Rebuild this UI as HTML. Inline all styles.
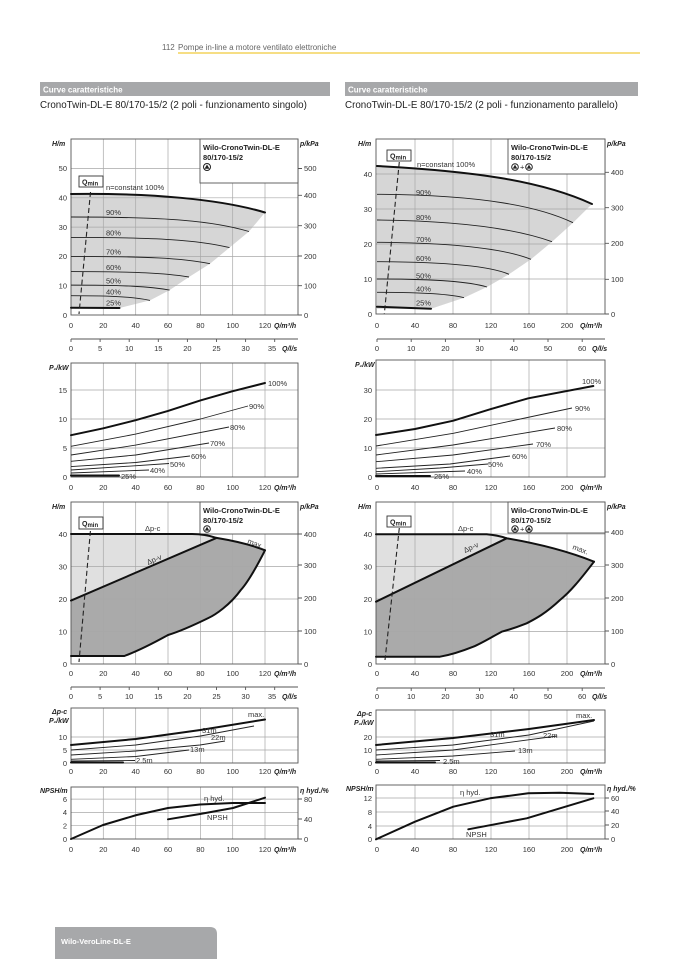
<!DOCTYPE html>
<html><head><meta charset="utf-8"><style>
html,body{margin:0;padding:0;background:#fff}
svg{display:block}
text{font-family:"Liberation Sans",sans-serif;fill:#333}
.t{font-size:7.5px}
.tm{font-size:7.5px;text-anchor:middle}
.tr{font-size:7.5px;text-anchor:end}
.ax{font-size:7px;font-weight:bold;font-style:italic;fill:#222}
.g{stroke:#a8a8a8;stroke-width:0.7;fill:none}
.f{stroke:#555;stroke-width:0.9;fill:none}
.c{stroke:#222;stroke-width:0.9;fill:none;stroke-linejoin:round}
.k{stroke:#111;stroke-width:2;fill:none;stroke-linejoin:round;stroke-linecap:round}
.d{stroke:#222;stroke-width:1.1;fill:none;stroke-dasharray:5,3}
.lb{font-size:7.5px;font-weight:bold;fill:#222}
</style></head><body>
<svg width="678" height="959" viewBox="0 0 678 959" xmlns="http://www.w3.org/2000/svg">
<!-- header -->
<text x="162" y="50" style="font-size:8px;fill:#666">112</text>
<text x="178" y="50" style="font-size:8px;fill:#666">Pompe in-line a motore ventilato elettroniche</text>
<line x1="178" y1="53" x2="640" y2="53" stroke="#f0c93a" stroke-width="1.2"/>
<rect x="40" y="82" width="290" height="14" fill="#a7a8aa"/>
<text x="43" y="92.5" style="font-size:8px;font-weight:bold;fill:#fff">Curve caratteristiche</text>
<rect x="345" y="82" width="293" height="14" fill="#a7a8aa"/>
<text x="348" y="92.5" style="font-size:8px;font-weight:bold;fill:#fff">Curve caratteristiche</text>
<text x="40" y="108" style="font-size:9.8px;fill:#222">CronoTwin-DL-E 80/170-15/2 (2 poli - funzionamento singolo)</text>
<text x="345" y="108" style="font-size:9.8px;fill:#222">CronoTwin-DL-E 80/170-15/2 (2 poli - funzionamento parallelo)</text>

<!-- ===== LEFT CHART 1 ===== -->
<path d="M71,194 C150,193 220,199 265,212.5 L249,231.5 L229.5,247.6 L210,263.7 L189,277 L169.6,290.1 L150,300.4 L119.5,308 L71,308 Z" fill="#d6d6d6"/>
<g class="g">
<path d="M103.3,139V315M135.7,139V315M168,139V315M200.4,139V315M232.7,139V315M265,139V315"/>
<path d="M71,285.7H298M71,256.4H298M71,227.1H298M71,197.8H298M71,168.5H298"/>
</g>
<rect x="71" y="139" width="227" height="176" class="f"/>
<path class="f" d="M298,168.5h4M298,195.3h4M298,225.7h4M298,256h4M298,285.7h4M298,315h4"/>
<rect x="200" y="139" width="98" height="44" fill="#fff" stroke="#555" stroke-width="0.9"/>
<text x="203" y="150" class="lb">Wilo-CronoTwin-DL-E</text>
<text x="203" y="160" class="lb">80/170-15/2</text>
<circle cx="207" cy="167" r="3.5" fill="#fff" stroke="#222"/><path d="M207,164.5 L209.5,168.8 L204.5,168.8Z" fill="#222"/>
<path class="k" d="M71,194 C150,193 220,199 265,212.5"/>
<path class="c" d="M71,217 C169,217 213,221 249,231.5"/>
<path class="c" d="M71,237.4 C158,237.4 198,240 229.5,247.6"/>
<path class="c" d="M71,256.4 C147,256.4 182,258 210,263.7"/>
<path class="c" d="M71,271.6 C136,271.6 165,273 189,277"/>
<path class="c" d="M71,285.1 C125,285.1 150,286.5 169.6,290.1"/>
<path class="c" d="M71,295.7 C114,295.7 134,297 150,300.4"/>
<path class="k" d="M71,307.7 L119.5,308"/>
<path class="d" d="M90.5,192 L79,314"/>
<rect x="79" y="176" width="24" height="11" fill="#fff" stroke="#333" stroke-width="0.9"/>
<text x="82" y="184.5" style="font-size:7px;font-weight:bold;fill:#222">Q<tspan style="font-size:6px" dy="1">min</tspan></text>
<text x="106" y="190" class="t">n=constant 100%</text>
<text x="106" y="215" class="t">90%</text>
<text x="106" y="235.5" class="t">80%</text>
<text x="106" y="254.5" class="t">70%</text>
<text x="106" y="270" class="t">60%</text>
<text x="106" y="283.5" class="t">50%</text>
<text x="106" y="294.5" class="t">40%</text>
<text x="106" y="305.5" class="t">25%</text>
<text x="67" y="318" class="tr">0</text><text x="67" y="288.5" class="tr">10</text><text x="67" y="259" class="tr">20</text><text x="67" y="230" class="tr">30</text><text x="67" y="200.5" class="tr">40</text><text x="67" y="171" class="tr">50</text>
<text x="304" y="318" class="t">0</text><text x="304" y="288.5" class="t">100</text><text x="304" y="259" class="t">200</text><text x="304" y="228.5" class="t">300</text><text x="304" y="198" class="t">400</text><text x="304" y="171" class="t">500</text>
<text x="52" y="146" class="ax">H/m</text><text x="300" y="146" class="ax">p/kPa</text>
<text x="71" y="328" class="tm">0</text><text x="103.3" y="328" class="tm">20</text><text x="135.7" y="328" class="tm">40</text><text x="168" y="328" class="tm">60</text><text x="200.4" y="328" class="tm">80</text><text x="232.7" y="328" class="tm">100</text><text x="265" y="328" class="tm">120</text>
<text x="274" y="328" class="ax">Q/m³/h</text>
<path class="f" d="M71,339H298M71,339v3M100.1,339v3M129.2,339v3M158.3,339v3M187.4,339v3M216.5,339v3M245.6,339v3M274.7,339v3"/>
<text x="71" y="351" class="tm">0</text><text x="100.1" y="351" class="tm">5</text><text x="129.2" y="351" class="tm">10</text><text x="158.3" y="351" class="tm">15</text><text x="187.4" y="351" class="tm">20</text><text x="216.5" y="351" class="tm">25</text><text x="245.6" y="351" class="tm">30</text><text x="272" y="351" class="tm">35</text>
<text x="282" y="351" class="ax">Q/l/s</text>

<!-- ===== LEFT CHART 2 (P1) ===== -->
<g class="g">
<path d="M103.3,363V477M135.7,363V477M168,363V477M200.4,363V477M232.7,363V477M265,363V477"/>
<path d="M71,448H298M71,419H298M71,390H298"/>
</g>
<rect x="71" y="363" width="227" height="114" class="f"/>
<polyline class="k" points="71,435.2 103.3,428.3 135.7,420.2 168,410.9 200.4,400.4 232.7,391.2 265,383"/>
<polyline class="c" points="71,446.3 135.7,434.1 200.4,419 248,406"/>
<polyline class="c" points="71,455 135.7,445.1 229,427"/>
<polyline class="c" points="71,461.3 135.7,455 209,443"/>
<polyline class="c" points="71,466.6 135.7,462.5 190,456"/>
<polyline class="c" points="71,470 169,463.5"/>
<polyline class="c" points="71,473 149,470"/>
<path class="k" d="M71,475.5 L119,475.5"/>
<text x="268" y="386" class="t">100%</text>
<text x="249" y="409" class="t">90%</text>
<text x="230" y="430" class="t">80%</text>
<text x="210" y="446" class="t">70%</text>
<text x="191" y="459" class="t">60%</text>
<text x="170" y="467" class="t">50%</text>
<text x="150" y="473" class="t">40%</text>
<text x="121" y="479" class="t">25%</text>
<text x="67" y="480" class="tr">0</text><text x="67" y="451" class="tr">5</text><text x="67" y="422" class="tr">10</text><text x="67" y="393" class="tr">15</text>
<text x="49" y="370" class="ax">P₁/kW</text>
<text x="71" y="490" class="tm">0</text><text x="103.3" y="490" class="tm">20</text><text x="135.7" y="490" class="tm">40</text><text x="168" y="490" class="tm">60</text><text x="200.4" y="490" class="tm">80</text><text x="232.7" y="490" class="tm">100</text><text x="265" y="490" class="tm">120</text>
<text x="274" y="490" class="ax">Q/m³/h</text>

<!-- ===== LEFT CHART 3 ===== -->
<path d="M71,534 L192,534 C200,534 208,535 216.5,537.9 L71,600.6 Z" fill="#e0e0e0"/>
<path d="M71,600.6 L216.5,537.9 C235,541 252,545 265,550.3 C255,575 245,585 240.8,590 C230,605 215,615 208.4,618 C190,627 178,632 168,635 C150,645 135,652 124.4,656 L71,656 Z" fill="#aaaaaa"/>
<g class="g">
<path d="M103.3,502V664M135.7,502V664M168,502V664M200.4,502V664M232.7,502V664M265,502V664"/>
<path d="M71,631.5H298M71,599H298M71,566.5H298M71,534H298"/>
</g>
<rect x="71" y="502" width="227" height="162" class="f"/>
<path class="f" d="M298,534h4M298,565h4M298,598h4M298,631h4M298,664h4"/>
<rect x="200" y="502" width="98" height="32" fill="#fff" stroke="#555" stroke-width="0.9"/>
<text x="203" y="513" class="lb">Wilo-CronoTwin-DL-E</text>
<text x="203" y="523" class="lb">80/170-15/2</text>
<circle cx="207" cy="529" r="3.3" fill="#fff" stroke="#222"/><path d="M207,526.6 L209.3,530.6 L204.7,530.6Z" fill="#222"/>
<path class="k" d="M71,534 L192,534 C200,534 208,535 216.5,537.9 C235,541 252,545 265,550.3"/>
<path class="k" d="M71,600.6 L216.5,537.9"/>
<path class="k" d="M265,550.3 C255,570 248,582 240.8,590 C230,605 215,615 208.4,618 C190,627 178,632 168,635 C150,645 135,652 124.4,656 L71,656"/>
<path class="d" d="M90.4,531 L79,662"/>
<rect x="79" y="517" width="24" height="12" fill="#fff" stroke="#333" stroke-width="0.9"/>
<text x="82" y="526" style="font-size:7px;font-weight:bold;fill:#222">Q<tspan style="font-size:6px" dy="1">min</tspan></text>
<text x="145" y="531" class="t">Δp-c</text>
<text x="148" y="565" class="t" transform="rotate(-23 148 565)">Δp-v</text>
<text x="247" y="543" class="t" transform="rotate(22 247 543)">max.</text>
<text x="67" y="667" class="tr">0</text><text x="67" y="634.5" class="tr">10</text><text x="67" y="602" class="tr">20</text><text x="67" y="569.5" class="tr">30</text><text x="67" y="537" class="tr">40</text>
<text x="304" y="667" class="t">0</text><text x="304" y="634" class="t">100</text><text x="304" y="601" class="t">200</text><text x="304" y="568" class="t">300</text><text x="304" y="537" class="t">400</text>
<text x="52" y="509" class="ax">H/m</text><text x="300" y="509" class="ax">p/kPa</text>
<text x="71" y="676" class="tm">0</text><text x="103.3" y="676" class="tm">20</text><text x="135.7" y="676" class="tm">40</text><text x="168" y="676" class="tm">60</text><text x="200.4" y="676" class="tm">80</text><text x="232.7" y="676" class="tm">100</text><text x="265" y="676" class="tm">120</text>
<text x="274" y="676" class="ax">Q/m³/h</text>
<path class="f" d="M71,687H298M71,687v3M100.1,687v3M129.2,687v3M158.3,687v3M187.4,687v3M216.5,687v3M245.6,687v3M274.7,687v3"/>
<text x="71" y="699" class="tm">0</text><text x="100.1" y="699" class="tm">5</text><text x="129.2" y="699" class="tm">10</text><text x="158.3" y="699" class="tm">15</text><text x="187.4" y="699" class="tm">20</text><text x="216.5" y="699" class="tm">25</text><text x="245.6" y="699" class="tm">30</text><text x="272" y="699" class="tm">35</text>
<text x="282" y="699" class="ax">Q/l/s</text>

<!-- ===== LEFT CHART 4 ===== -->
<g class="g">
<path d="M103.3,708V763M135.7,708V763M168,708V763M200.4,708V763M232.7,708V763M265,708V763"/>
<path d="M71,750H298M71,737H298"/>
</g>
<rect x="71" y="708" width="227" height="55" class="f"/>
<polyline class="k" points="71,745 135.7,739 200.4,730 265,719.5"/>
<polyline class="c" points="71,750 135.7,745 200.4,736 254,726"/>
<polyline class="c" points="71,755 135.7,751 200,745 225,741"/>
<polyline class="c" points="71,759.3 135.7,756.5 189,750"/>
<polyline class="c" points="71,761 135,760.5"/>
<path class="k" d="M71,762.5 L123,762.5"/>
<text x="248" y="717" class="t">max.</text>
<text x="202" y="733" class="t">31m</text>
<text x="211" y="740" class="t">22m</text>
<text x="190" y="752" class="t">13m</text>
<text x="136" y="763" class="t">2.5m</text>
<text x="67" y="766" class="tr">0</text><text x="67" y="753" class="tr">5</text><text x="67" y="740" class="tr">10</text>
<text x="52" y="714" class="ax">Δp-c</text><text x="49" y="723" class="ax">P₁/kW</text>
<text x="71" y="774" class="tm">0</text><text x="103.3" y="774" class="tm">20</text><text x="135.7" y="774" class="tm">40</text><text x="168" y="774" class="tm">60</text><text x="200.4" y="774" class="tm">80</text><text x="232.7" y="774" class="tm">100</text><text x="265" y="774" class="tm">120</text>
<text x="274" y="774" class="ax">Q/m³/h</text>

<!-- ===== LEFT CHART 5 ===== -->
<g class="g">
<path d="M103.3,787V839M135.7,787V839M168,787V839M200.4,787V839M232.7,787V839M265,787V839"/>
<path d="M71,825.7H298M71,812.4H298M71,799.1H298"/>
</g>
<rect x="71" y="787" width="227" height="52" class="f"/>
<path class="f" d="M298,799h4M298,819h4M298,839h4"/>
<polyline class="k" points="71,839 103,825 136.7,815 168,808 200,804.5 233,803 265,803"/>
<polyline class="k" points="168,819.3 200,814 233,808 265,797.7"/>
<text x="204" y="801" class="t">η hyd.</text>
<text x="207" y="820" class="t">NPSH</text>
<text x="67" y="842" class="tr">0</text><text x="67" y="828.5" class="tr">2</text><text x="67" y="815" class="tr">4</text><text x="67" y="802" class="tr">6</text>
<text x="304" y="842" class="t">0</text><text x="304" y="822" class="t">40</text><text x="304" y="802" class="t">80</text>
<text x="40" y="793" class="ax">NPSH/m</text><text x="300" y="793" class="ax">η hyd./%</text>
<text x="71" y="852" class="tm">0</text><text x="103.3" y="852" class="tm">20</text><text x="135.7" y="852" class="tm">40</text><text x="168" y="852" class="tm">60</text><text x="200.4" y="852" class="tm">80</text><text x="232.7" y="852" class="tm">100</text><text x="265" y="852" class="tm">120</text>
<text x="274" y="852" class="ax">Q/m³/h</text>

<!-- ===== RIGHT CHART 1 ===== -->
<path d="M377,166 C470,171 540,180 592,204 L573,222.7 L552,241.7 L531,259.3 L509,274.3 L487,287 L464,297.7 L431,308.7 L377,308.7 Z" fill="#d6d6d6"/>
<g class="g">
<path d="M415,139V314M453,139V314M491,139V314M529,139V314M567,139V314"/>
<path d="M376,279H605M376,244H605M376,209H605M376,174H605"/>
</g>
<rect x="376" y="139" width="229" height="175" class="f"/>
<path class="f" d="M605,172.3h4M605,207.7h4M605,243.3h4M605,279.3h4M605,314h4"/>
<rect x="508" y="139" width="97" height="35" fill="#fff" stroke="#555" stroke-width="0.9"/>
<text x="511" y="150" class="lb">Wilo-CronoTwin-DL-E</text>
<text x="511" y="160" class="lb">80/170-15/2</text>
<circle cx="515" cy="167" r="3.3" fill="#fff" stroke="#222"/><path d="M515,164.6 L517.3,168.6 L512.7,168.6Z" fill="#222"/>
<text x="520" y="169.5" class="t">+</text>
<circle cx="529" cy="167" r="3.3" fill="#fff" stroke="#222"/><path d="M529,164.6 L531.3,168.6 L526.7,168.6Z" fill="#222"/>
<path class="k" d="M377,166 C470,171 540,180 592,204"/>
<path class="c" d="M377,194.3 C485,195 540,207 573,222.7"/>
<path class="c" d="M377,220 C475,221 525,232 552,241.7"/>
<path class="c" d="M377,242.3 C470,243 510,251 531,259.3"/>
<path class="c" d="M377,261.7 C455,262 492,267 509,274.3"/>
<path class="c" d="M377,279 C440,279 470,282 487,287"/>
<path class="c" d="M377,292.3 C425,292.3 450,294 464,297.7"/>
<path class="k" d="M377,306.7 L431,308.7"/>
<path class="d" d="M399.3,162 L384.3,314"/>
<rect x="387" y="150" width="24" height="11" fill="#fff" stroke="#333" stroke-width="0.9"/>
<text x="390" y="158.5" style="font-size:7px;font-weight:bold;fill:#222">Q<tspan style="font-size:6px" dy="1">min</tspan></text>
<text x="417" y="167" class="t">n=constant 100%</text>
<text x="416" y="195" class="t">90%</text>
<text x="416" y="220" class="t">80%</text>
<text x="416" y="242" class="t">70%</text>
<text x="416" y="261" class="t">60%</text>
<text x="416" y="278.5" class="t">50%</text>
<text x="416" y="291.5" class="t">40%</text>
<text x="416" y="305.5" class="t">25%</text>
<text x="372" y="317" class="tr">0</text><text x="372" y="282" class="tr">10</text><text x="372" y="247" class="tr">20</text><text x="372" y="212" class="tr">30</text><text x="372" y="177" class="tr">40</text>
<text x="611" y="317" class="t">0</text><text x="611" y="282" class="t">100</text><text x="611" y="246" class="t">200</text><text x="611" y="210.5" class="t">300</text><text x="611" y="175" class="t">400</text>
<text x="358" y="146" class="ax">H/m</text><text x="607" y="146" class="ax">p/kPa</text>
<text x="377" y="328" class="tm">0</text><text x="415" y="328" class="tm">40</text><text x="453" y="328" class="tm">80</text><text x="491" y="328" class="tm">120</text><text x="529" y="328" class="tm">160</text><text x="567" y="328" class="tm">200</text>
<text x="580" y="328" class="ax">Q/m³/h</text>
<path class="f" d="M377,339H605M377,339v3M411.2,339v3M445.4,339v3M479.6,339v3M513.8,339v3M548,339v3M582.2,339v3"/>
<text x="377" y="351" class="tm">0</text><text x="411.2" y="351" class="tm">10</text><text x="445.4" y="351" class="tm">20</text><text x="479.6" y="351" class="tm">30</text><text x="513.8" y="351" class="tm">40</text><text x="548" y="351" class="tm">50</text><text x="582.2" y="351" class="tm">60</text>
<text x="592" y="351" class="ax">Q/l/s</text>

<!-- ===== RIGHT CHART 2 ===== -->
<g class="g">
<path d="M415,360V477M453,360V477M491,360V477M529,360V477M567,360V477"/>
<path d="M376,448H605M376,419H605M376,390H605"/>
</g>
<rect x="376" y="360" width="229" height="117" class="f"/>
<polyline class="k" points="376,435 415,429 453.3,420.7 490,409.3 528.3,398.3 593.3,386"/>
<polyline class="c" points="376,446 453.3,433.3 572,408"/>
<polyline class="c" points="376,455 453,445 555,428"/>
<polyline class="c" points="376,461.7 453,455 533,444"/>
<polyline class="c" points="376,468.3 450,464 510,456"/>
<polyline class="c" points="376,471.7 440,468 488,464"/>
<polyline class="c" points="376,474 465,471"/>
<path class="k" d="M376,476 L430,476"/>
<text x="582" y="384" class="t">100%</text>
<text x="575" y="411" class="t">90%</text>
<text x="557" y="431" class="t">80%</text>
<text x="536" y="447" class="t">70%</text>
<text x="512" y="459" class="t">60%</text>
<text x="488" y="467" class="t">50%</text>
<text x="467" y="474" class="t">40%</text>
<text x="434" y="479" class="t">25%</text>
<text x="372" y="480" class="tr">0</text><text x="372" y="451" class="tr">10</text><text x="372" y="422" class="tr">20</text><text x="372" y="393" class="tr">30</text>
<text x="355" y="367" class="ax">P₁/kW</text>
<text x="377" y="490" class="tm">0</text><text x="415" y="490" class="tm">40</text><text x="453" y="490" class="tm">80</text><text x="491" y="490" class="tm">120</text><text x="529" y="490" class="tm">160</text><text x="567" y="490" class="tm">200</text>
<text x="580" y="490" class="ax">Q/m³/h</text>

<!-- ===== RIGHT CHART 3 ===== -->
<path d="M376,534.3 L486.7,534.3 C495,535 500,536 506.7,538.3 L376,601.7 Z" fill="#e0e0e0"/>
<path d="M376,601.7 L506.7,538.3 C540,544 570,552 594,561.7 C580,580 570,592 560,600 C545,614 535,619 526.7,623.3 C515,628 508,630 501.7,631.7 C490,638 482,643 473.3,646.7 C460,652 450,655 440,656.7 L376,656.7 Z" fill="#aaaaaa"/>
<g class="g">
<path d="M415,502V664M453,502V664M491,502V664M529,502V664M567,502V664"/>
<path d="M376,631.5H605M376,599H605M376,566.5H605M376,534H605"/>
</g>
<rect x="376" y="502" width="229" height="162" class="f"/>
<path class="f" d="M605,532h4M605,565h4M605,598h4M605,631h4M605,664h4"/>
<rect x="508" y="502" width="97" height="31" fill="#fff" stroke="#555" stroke-width="0.9"/>
<text x="511" y="513" class="lb">Wilo-CronoTwin-DL-E</text>
<text x="511" y="523" class="lb">80/170-15/2</text>
<circle cx="515" cy="529" r="3.2" fill="#fff" stroke="#222"/><path d="M515,526.7 L517.2,530.5 L512.8,530.5Z" fill="#222"/>
<text x="520" y="531.5" class="t">+</text>
<circle cx="529" cy="529" r="3.2" fill="#fff" stroke="#222"/><path d="M529,526.7 L531.2,530.5 L526.8,530.5Z" fill="#222"/>
<path class="k" d="M376,534.3 L486.7,534.3 C495,535 500,536 506.7,538.3 C540,544 570,552 594,561.7"/>
<path class="k" d="M376,601.7 L506.7,538.3"/>
<path class="k" d="M594,561.7 C580,580 570,592 560,600 C545,614 535,619 526.7,623.3 C515,628 508,630 501.7,631.7 C490,638 482,643 473.3,646.7 C460,652 450,655 440,656.7 L376,656.7"/>
<path class="d" d="M399.3,528 L385,660"/>
<rect x="387" y="516" width="24" height="11" fill="#fff" stroke="#333" stroke-width="0.9"/>
<text x="390" y="524.5" style="font-size:7px;font-weight:bold;fill:#222">Q<tspan style="font-size:6px" dy="1">min</tspan></text>
<text x="458" y="531" class="t">Δp-c</text>
<text x="465" y="553" class="t" transform="rotate(-25 465 553)">Δp-v</text>
<text x="572" y="549" class="t" transform="rotate(20 572 549)">max.</text>
<text x="372" y="667" class="tr">0</text><text x="372" y="634.5" class="tr">10</text><text x="372" y="602" class="tr">20</text><text x="372" y="569.5" class="tr">30</text><text x="372" y="537" class="tr">40</text>
<text x="611" y="667" class="t">0</text><text x="611" y="634" class="t">100</text><text x="611" y="601" class="t">200</text><text x="611" y="568" class="t">300</text><text x="611" y="535" class="t">400</text>
<text x="358" y="509" class="ax">H/m</text><text x="607" y="509" class="ax">p/kPa</text>
<text x="377" y="676" class="tm">0</text><text x="415" y="676" class="tm">40</text><text x="453" y="676" class="tm">80</text><text x="491" y="676" class="tm">120</text><text x="529" y="676" class="tm">160</text><text x="567" y="676" class="tm">200</text>
<text x="580" y="676" class="ax">Q/m³/h</text>
<path class="f" d="M377,688H605M377,688v3M411.2,688v3M445.4,688v3M479.6,688v3M513.8,688v3M548,688v3M582.2,688v3"/>
<text x="377" y="699" class="tm">0</text><text x="411.2" y="699" class="tm">10</text><text x="445.4" y="699" class="tm">20</text><text x="479.6" y="699" class="tm">30</text><text x="513.8" y="699" class="tm">40</text><text x="548" y="699" class="tm">50</text><text x="582.2" y="699" class="tm">60</text>
<text x="592" y="699" class="ax">Q/l/s</text>

<!-- ===== RIGHT CHART 4 ===== -->
<g class="g">
<path d="M415,710V763M453,710V763M491,710V763M529,710V763M567,710V763"/>
<path d="M376,750H605M376,737H605"/>
</g>
<rect x="376" y="710" width="229" height="53" class="f"/>
<polyline class="k" points="376,745 453,738 529,729 594,720"/>
<polyline class="c" points="376,750 453,745 529,735 594,721"/>
<polyline class="c" points="376,755 453,750 557,736"/>
<polyline class="c" points="376,759.3 453,756 515,751"/>
<polyline class="c" points="376,761 440,760.5"/>
<path class="k" d="M376,762.5 L435,762.5"/>
<text x="576" y="718" class="t">max.</text>
<text x="490" y="737" class="t">31m</text>
<text x="543" y="738" class="t">22m</text>
<text x="518" y="753" class="t">13m</text>
<text x="443" y="764" class="t">2.5m</text>
<text x="372" y="766" class="tr">0</text><text x="372" y="753" class="tr">10</text><text x="372" y="740" class="tr">20</text>
<text x="357" y="716" class="ax">Δp-c</text><text x="354" y="725" class="ax">P₁/kW</text>
<text x="377" y="774" class="tm">0</text><text x="415" y="774" class="tm">40</text><text x="453" y="774" class="tm">80</text><text x="491" y="774" class="tm">120</text><text x="529" y="774" class="tm">160</text><text x="567" y="774" class="tm">200</text>
<text x="580" y="774" class="ax">Q/m³/h</text>

<!-- ===== RIGHT CHART 5 ===== -->
<g class="g">
<path d="M415,785V839M453,785V839M491,785V839M529,785V839M567,785V839"/>
<path d="M376,826H605M376,812H605M376,798H605"/>
</g>
<rect x="376" y="785" width="229" height="54" class="f"/>
<path class="f" d="M605,798h4M605,811h4M605,825h4M605,839h4"/>
<polyline class="k" points="376,839.3 415,821.7 453.3,806.7 490,798.3 528.3,793.3 560,792.8 593.3,794"/>
<polyline class="k" points="468.3,829.3 526.7,818.3 593.3,798.3"/>
<text x="460" y="795" class="t">η hyd.</text>
<text x="466" y="837" class="t">NPSH</text>
<text x="372" y="842" class="tr">0</text><text x="372" y="829" class="tr">4</text><text x="372" y="815" class="tr">8</text><text x="372" y="801" class="tr">12</text>
<text x="611" y="842" class="t">0</text><text x="611" y="828" class="t">20</text><text x="611" y="814" class="t">40</text><text x="611" y="801" class="t">60</text>
<text x="346" y="791" class="ax">NPSH/m</text><text x="607" y="791" class="ax">η hyd./%</text>
<text x="377" y="852" class="tm">0</text><text x="415" y="852" class="tm">40</text><text x="453" y="852" class="tm">80</text><text x="491" y="852" class="tm">120</text><text x="529" y="852" class="tm">160</text><text x="567" y="852" class="tm">200</text>
<text x="580" y="852" class="ax">Q/m³/h</text>

<!-- footer tab -->
<path d="M55,927 H210 Q217,927 217,934 V959 H55 Z" fill="#a7a8aa"/>
<text x="61" y="944" style="font-size:7.5px;font-weight:bold;fill:#fff">Wilo-VeroLine-DL-E</text>
</svg>
</body></html>
